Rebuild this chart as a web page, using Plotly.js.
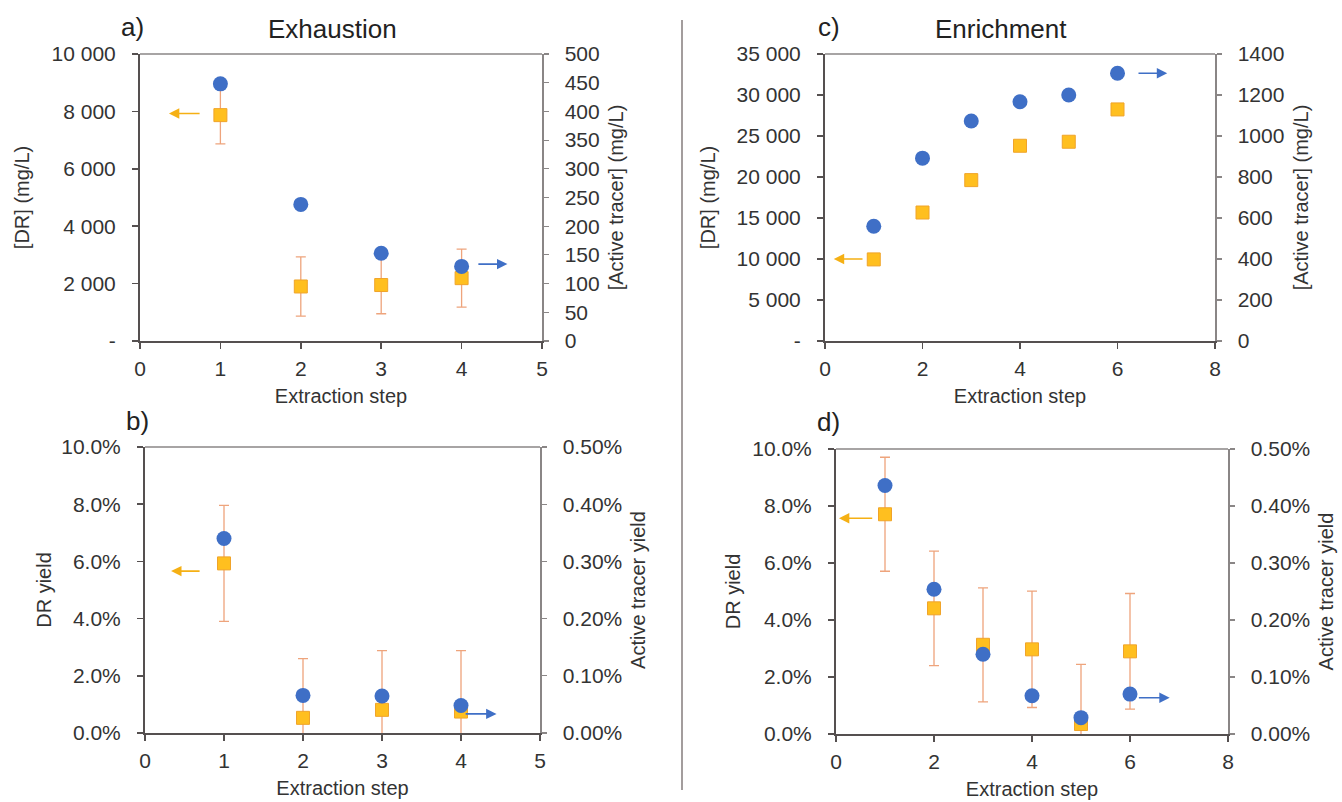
<!DOCTYPE html>
<html>
<head>
<meta charset="utf-8">
<script src="https://cdn.plot.ly/plotly-3.0.1.min.js"></script>
<style>html,body{margin:0;padding:0;background:#fff;}#chart{width:1342px;height:802px;}</style>
</head>
<body>
<div id="chart"></div>
<script>
// ---------- data ----------
const stepsExh = [1, 2, 3, 4];
const exhDR = [7870, 1900, 1950, 2190];            // mg/L (left axis)
const exhDRErr = [1000, 1030, 1000, 1010];
const exhTracer = [448, 238, 153, 130];            // mg/L (right axis)
const exhDRYield = [0.0593, 0.0053, 0.0081, 0.0075];
const exhDRYieldErr = [0.0203, 0.0207, 0.0207, 0.0213];
const exhTracerYield = [0.00340, 0.000657, 0.000646, 0.00048];

const stepsEnr = [1, 2, 3, 4, 5, 6];
const enrDR = [9950, 15670, 19620, 23810, 24300, 28240];
const enrDRErr = [350, 350, 350, 350, 350, 350];
const enrTracer = [560, 892, 1073, 1167, 1200, 1306];
const enrDRYield = [0.0771, 0.0441, 0.0313, 0.0297, 0.0035, 0.0290];
const enrDRYieldErr = [0.0200, 0.0201, 0.0200, 0.0204, 0.0209, 0.0203];
const enrTracerYield = [0.00436, 0.00254, 0.00140, 0.00067, 0.000287, 0.00070];

const drTicksA = [0, 2000, 4000, 6000, 8000, 10000];
const drTickTextA = ['-', '2 000', '4 000', '6 000', '8 000', '10 000'];
const drTicksC = [0, 5000, 10000, 15000, 20000, 25000, 30000, 35000];
const drTickTextC = ['-', '5 000', '10 000', '15 000', '20 000', '25 000', '30 000', '35 000'];

// ---------- styles ----------
const W = 1342, H = 802;
const BLUE = '#3f6fc6';
const GOLD = '#ffbf1f';
const GOLD_EDGE = '#f0a42a';
const ARROW_GOLD = '#f5b014';
const ERR = '#eea47c';
const DARK = '#555050';
const GREY = '#8a8686';
const FONT = 'Liberation Sans, Arial, Helvetica, sans-serif';
const TXT = '#333333';
const tickFont = {family: FONT, size: 21, color: TXT};
const titleFont = {family: FONT, size: 20, color: TXT};

function px(x) { return x / W; }
function py(y) { return 1 - y / H; }

function sq(xa, ya, x, y, err, cap) {
  return {type: 'scatter', mode: 'markers', x: x, y: y, xaxis: xa, yaxis: ya,
    marker: {symbol: 'square', size: 13, color: GOLD, line: {color: GOLD_EDGE, width: 1}},
    error_y: {type: 'data', array: err, visible: true, color: ERR, thickness: 1.3, width: cap},
    hoverinfo: 'x+y'};
}
function circ(xa, ya, x, y) {
  return {type: 'scatter', mode: 'markers', x: x, y: y, xaxis: xa, yaxis: ya,
    marker: {symbol: 'circle', size: 15, color: BLUE}, hoverinfo: 'x+y'};
}

const data = [
  sq('x', 'y', stepsExh, exhDR, exhDRErr, 5),
  circ('x', 'y2', stepsExh, exhTracer),
  sq('x2', 'y3', stepsExh, exhDRYield, exhDRYieldErr, 5),
  circ('x2', 'y4', stepsExh, exhTracerYield),
  sq('x3', 'y5', stepsEnr, enrDR, enrDRErr, 4),
  circ('x3', 'y6', stepsEnr, enrTracer),
  sq('x4', 'y7', stepsEnr, enrDRYield, enrDRYieldErr, 5),
  circ('x4', 'y8', stepsEnr, enrTracerYield)
];

function xAxis(dom, yanchor, range, dtick) {
  return {domain: dom, anchor: yanchor, range: range, dtick: dtick, tick0: 0,
    showgrid: false, zeroline: false, showline: true, linecolor: DARK, linewidth: 2,
    ticks: 'outside', ticklen: 6, tickwidth: 1.5, tickcolor: DARK,
    tickfont: tickFont, ticklabelstandoff: 2,
    title: {text: 'Extraction step', font: titleFont, standoff: 10}};
}
function yLeft(dom, xanchor, range, extra, title, standoff) {
  return Object.assign({domain: dom, anchor: xanchor, range: range,
    showgrid: false, zeroline: false, showline: true, linecolor: DARK, linewidth: 2,
    ticks: 'outside', ticklen: 6, tickwidth: 1.5, tickcolor: DARK,
    tickfont: tickFont, ticklabelstandoff: 12,
    title: {text: title, font: titleFont, standoff: standoff}}, extra);
}
function yRight(over, xanchor, range, extra, title) {
  return Object.assign({overlaying: over, side: 'right', anchor: xanchor, range: range,
    showgrid: false, zeroline: false, showline: true, linecolor: GREY, linewidth: 1.5,
    ticks: 'outside', ticklen: 5, tickwidth: 1.2, tickcolor: GREY,
    tickfont: tickFont, ticklabelstandoff: 12,
    title: {text: title, font: titleFont, standoff: 10}}, extra);
}

const domXa = [px(140), px(542)], domYa = [py(341), py(54)];
const domXb = [px(145), px(540)], domYb = [py(733), py(447)];
const domXc = [px(825), px(1215)], domYc = [py(341), py(54)];
const domXd = [px(836), px(1228)], domYd = [py(734), py(449)];

function arrow(xr, yr, xTail, xHead, yv, color) {
  return {xref: xr, yref: yr, axref: xr, ayref: yr, x: xHead, y: yv, ax: xTail, ay: yv,
    text: '', showarrow: true, arrowhead: 2, arrowsize: 1.3, arrowwidth: 1.6, arrowcolor: color};
}
function label(text, x, y, size) {
  return {xref: 'paper', yref: 'paper', x: px(x), y: py(y), text: text, showarrow: false,
    xanchor: 'center', yanchor: 'middle', font: {family: FONT, size: size, color: '#222'}};
}
function topLine(xr, yr) {
  return {type: 'line', xref: xr + ' domain', yref: yr + ' domain', x0: 0, x1: 1, y0: 1, y1: 1,
    line: {color: GREY, width: 1.5}};
}

const layout = {
  width: W, height: H, margin: {l: 0, r: 0, t: 0, b: 0}, showlegend: false,
  paper_bgcolor: '#ffffff', plot_bgcolor: '#ffffff',
  font: {family: FONT, color: TXT},
  xaxis: xAxis(domXa, 'y', [0, 5], 1),
  yaxis: yLeft(domYa, 'x', [0, 10000], {tickvals: drTicksA, ticktext: drTickTextA}, '[DR] (mg/L)', 17),
  yaxis2: yRight('y', 'x', [0, 500], {dtick: 50, tick0: 0}, '[Active tracer] (mg/L)'),
  xaxis2: xAxis(domXb, 'y3', [0, 5], 1),
  yaxis3: yLeft(domYb, 'x2', [0, 0.10], {dtick: 0.02, tick0: 0, tickformat: '.1%'}, 'DR yield', 4),
  yaxis4: yRight('y3', 'x2', [0, 0.005], {dtick: 0.001, tick0: 0, tickformat: '.2%'}, 'Active tracer yield'),
  xaxis3: xAxis(domXc, 'y5', [0, 8], 2),
  yaxis5: yLeft(domYc, 'x3', [0, 35000], {tickvals: drTicksC, ticktext: drTickTextC}, '[DR] (mg/L)', 16),
  yaxis6: yRight('y5', 'x3', [0, 1400], {dtick: 200, tick0: 0}, '[Active tracer] (mg/L)'),
  xaxis4: xAxis(domXd, 'y7', [0, 8], 2),
  yaxis7: yLeft(domYd, 'x4', [0, 0.10], {dtick: 0.02, tick0: 0, tickformat: '.1%'}, 'DR yield', 6),
  yaxis8: yRight('y7', 'x4', [0, 0.005], {dtick: 0.001, tick0: 0, tickformat: '.2%'}, 'Active tracer yield'),
  shapes: [
    topLine('x', 'y'), topLine('x2', 'y3'), topLine('x3', 'y5'), topLine('x4', 'y7'),
    {type: 'line', xref: 'paper', yref: 'paper', x0: px(682), x1: px(682), y0: py(20), y1: py(790),
     line: {color: '#a39d9d', width: 2}}
  ],
  annotations: [
    label('a)', 132, 27, 26), label('Exhaustion', 332, 29, 26),
    label('c)', 829, 27, 26), label('Enrichment', 1001, 29, 26),
    label('b)', 137, 421, 26), label('d)', 828, 422, 26),
    arrow('x', 'y', 0.76, 0.36, 7925, ARROW_GOLD),
    arrow('x', 'y2', 4.19, 4.57, 134, BLUE),
    arrow('x2', 'y3', 0.71, 0.33, 0.0566, ARROW_GOLD),
    arrow('x2', 'y4', 4.04, 4.45, 0.000334, BLUE),
    arrow('x3', 'y5', 0.80, 0.18, 10000, ARROW_GOLD),
    arrow('x3', 'y6', 6.40, 7.02, 1306, BLUE),
    arrow('x4', 'y7', 0.77, 0.06, 0.0757, ARROW_GOLD),
    arrow('x4', 'y8', 6.15, 6.81, 0.000637, BLUE)
  ]
};

Plotly.newPlot('chart', data, layout, {staticPlot: true, displayModeBar: false});
</script>
</body>
</html>
